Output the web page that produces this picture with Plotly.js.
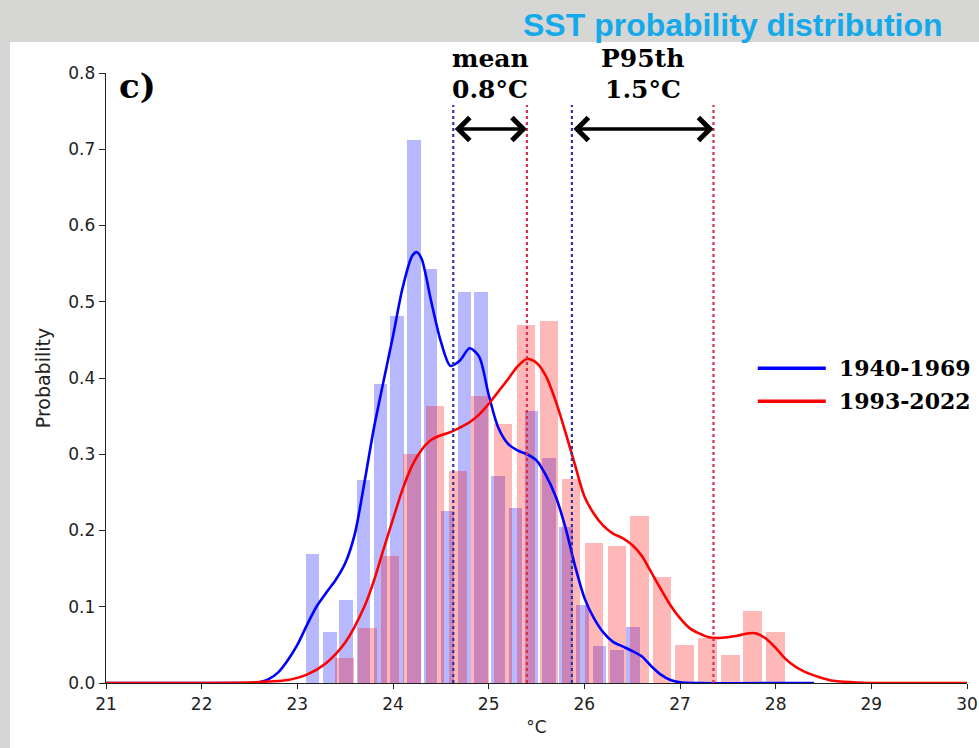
<!DOCTYPE html>
<html><head><meta charset="utf-8">
<script src="https://cdn.plot.ly/plotly-3.0.1.min.js"></script>
<style>html,body{margin:0;padding:0;background:#d6d6d4;} #chart{width:979px;height:748px;}</style>
</head><body><div id="chart"></div>
<script>
// Histogram bins (bin centres, probability density)
const blueBinCenters = [23.16,23.34,23.51,23.69,23.87,24.04,24.22,24.39,24.57,24.75,24.92,25.10,25.28,25.45,25.63,25.81,25.98,26.16,26.34,26.51];
const blueBinProb    = [0.169,0.067,0.109,0.266,0.392,0.481,0.712,0.543,0.225,0.513,0.513,0.271,0.229,0.357,0.295,0.205,0.102,0.049,0.043,0.073];
const redBinCenters  = [23.49,23.73,23.97,24.20,24.44,24.68,24.91,25.15,25.39,25.63,25.86,26.10,26.34,26.58,26.81,27.05,27.29,27.53,27.76,28.00];
const redBinProb     = [0.033,0.072,0.167,0.300,0.363,0.278,0.376,0.340,0.470,0.475,0.268,0.184,0.180,0.219,0.139,0.050,0.059,0.037,0.095,0.067];

// KDE curves
const blueKdeX = [21,22.0,22.5,22.6,22.7,22.8,22.9,23.0,23.1,23.2,23.3,23.4,23.5,23.6,23.7,23.8,23.9,24.0,24.1,24.2,24.25,24.3,24.4,24.5,24.6,24.7,24.8,24.9,25.0,25.1,25.2,25.3,25.4,25.5,25.6,25.7,25.8,25.9,26.0,26.1,26.2,26.3,26.4,26.5,26.6,26.7,26.8,26.9,27.0,27.2,28.4];
const blueKdeY = [0,0,0,0.001,0.005,0.014,0.030,0.050,0.076,0.100,0.118,0.135,0.157,0.195,0.262,0.334,0.395,0.455,0.518,0.560,0.565,0.556,0.500,0.448,0.416,0.423,0.439,0.428,0.378,0.335,0.314,0.305,0.300,0.292,0.272,0.245,0.205,0.155,0.112,0.085,0.066,0.054,0.048,0.042,0.035,0.022,0.011,0.004,0.001,0,0];
const redKdeX = [21,22.0,22.5,22.7,22.9,23.1,23.3,23.5,23.7,23.8,23.9,24.0,24.1,24.2,24.3,24.4,24.5,24.6,24.7,24.8,24.9,25.0,25.1,25.2,25.3,25.4,25.5,25.6,25.7,25.8,25.9,26.0,26.1,26.2,26.3,26.4,26.5,26.6,26.7,26.8,26.9,27.0,27.1,27.2,27.3,27.4,27.5,27.6,27.7,27.8,27.9,28.0,28.1,28.2,28.3,28.4,28.5,28.6,28.8,29.0,30];
const redKdeY = [0,0,0.0005,0.002,0.004,0.011,0.026,0.053,0.100,0.134,0.175,0.215,0.254,0.285,0.306,0.319,0.325,0.329,0.335,0.342,0.352,0.366,0.382,0.398,0.415,0.425,0.420,0.402,0.370,0.330,0.287,0.245,0.222,0.206,0.196,0.190,0.181,0.167,0.145,0.123,0.102,0.085,0.072,0.065,0.060,0.059,0.060,0.062,0.065,0.065,0.058,0.046,0.032,0.022,0.015,0.010,0.006,0.003,0.001,0,0];

const periodLabels = ['1940-1969','1993-2022'];
const periodColors = ['#0000ff','#ff0000'];
const meanSST = [24.63, 25.40];
const p95SST  = [25.87, 27.35];
const diffNames = ['mean', 'P95th'];
const diffValues = ['0.8°C', '1.5°C'];
const xTicks = [21,22,23,24,25,26,27,28,29,30];

const traces = [
  {type:'bar', x:blueBinCenters, y:blueBinProb, width:0.141, marker:{color:'rgba(0,0,255,0.28)', line:{width:0}}, showlegend:false, hoverinfo:'x+y'},
  {type:'bar', x:redBinCenters, y:redBinProb, width:0.195, marker:{color:'rgba(255,0,0,0.28)', line:{width:0}}, showlegend:false, hoverinfo:'x+y'},
  {type:'scatter', mode:'lines', x:blueKdeX, y:blueKdeY, name:periodLabels[0], line:{color:periodColors[0], width:2.6, shape:'spline', smoothing:0.8}, showlegend:false},
  {type:'scatter', mode:'lines', x:redKdeX, y:redKdeY, name:periodLabels[1], line:{color:periodColors[1], width:2.6, shape:'spline', smoothing:0.8}, showlegend:false}
];

const slab = 'DejaVu Serif, Liberation Serif, serif';
const shapes = [
  {type:'rect', xref:'paper', yref:'paper', x0:-0.1115, x1:1.2, y0:-0.3, y1:1.0508, fillcolor:'white', line:{width:0}, layer:'below'}
];
const dotCols = ['#3232a8', '#d8304e'];
[meanSST, p95SST].forEach(vals => {
  vals.forEach((v,i) => shapes.push({type:'line', xref:'x', yref:'y', x0:v, x1:v, y0:0, y1:0.758, line:{color:dotCols[i], width:2.2, dash:'dot'}}));
});
// custom legend lines
const legY = [0.516, 0.462];
periodLabels.forEach((p,i) => shapes.push({type:'line', xref:'paper', yref:'paper', x0:0.757, x1:0.836, y0:legY[i], y1:legY[i], line:{color:periodColors[i], width:3.5}}));

const annotations = [
  {xref:'paper', yref:'paper', x:0.9745, y:1.0787, xanchor:'right', yanchor:'middle', showarrow:false,
   text:'<b>SST probability distribution</b>', font:{family:'Liberation Sans, Arial, sans-serif', size:32, color:'#14a9ea'}},
  {xref:'paper', yref:'paper', x:0.013, y:0.978, xanchor:'left', yanchor:'middle', showarrow:false,
   text:'<b>c)</b>', font:{family:slab, size:34, color:'black'}}
];
[meanSST, p95SST].forEach((vals,k) => {
  annotations.push({xref:'x', yref:'y', axref:'x', ayref:'y', x:vals[1], y:0.7265, ax:vals[0], ay:0.7265, text:'',
    showarrow:true, arrowside:'end+start', arrowhead:4, startarrowhead:4, arrowsize:1.3, startarrowsize:1.3, arrowwidth:3.4, arrowcolor:'black', standoff:0, startstandoff:0});
  annotations.push({xref:'x', yref:'paper', x:(vals[0]+vals[1])/2, y:1.0235, xanchor:'center', yanchor:'middle', showarrow:false,
    text:'<b>'+diffNames[k]+'</b>', font:{family:slab, size:25, color:'black'}});
  annotations.push({xref:'x', yref:'paper', x:(vals[0]+vals[1])/2, y:0.9725, xanchor:'center', yanchor:'middle', showarrow:false,
    text:'<b>'+diffValues[k]+'</b>', font:{family:slab, size:25, color:'black'}});
});
periodLabels.forEach((p,i) => annotations.push({xref:'paper', yref:'paper', x:0.8485, y:legY[i], xanchor:'left', yanchor:'middle', showarrow:false,
  text:'<b>'+p+'</b>', font:{family:slab, size:22, color:'black'}}));

const axFont = {family:'DejaVu Sans, Liberation Sans, sans-serif', size:17, color:'#222'};
const layout = {
  width:979, height:748,
  margin:{l:106, r:12, t:73, b:65},
  paper_bgcolor:'#d6d6d4', plot_bgcolor:'white',
  barmode:'overlay', bargap:0,
  showlegend:false,
  xaxis:{range:[21,30], tickvals:xTicks, ticks:'outside', ticklen:5, tickwidth:1, tickcolor:'#222',
    showline:true, linecolor:'#222', linewidth:1.3, showgrid:false, zeroline:false, tickfont:axFont,
    title:{text:'°C', font:{family:axFont.family, size:17, color:'#222'}, standoff:8}},
  yaxis:{range:[0,0.8], dtick:0.1, tick0:0, tickformat:'.1f', ticks:'outside', ticklen:6, tickwidth:1, tickcolor:'#222',
    showline:true, linecolor:'#222', linewidth:1.3, showgrid:false, zeroline:false, tickfont:axFont,
    title:{text:'Probability', font:{family:axFont.family, size:19, color:'#222'}, standoff:12}},
  shapes:shapes, annotations:annotations
};
Plotly.newPlot('chart', traces, layout, {displayModeBar:false, staticPlot:true});
</script></body></html>
